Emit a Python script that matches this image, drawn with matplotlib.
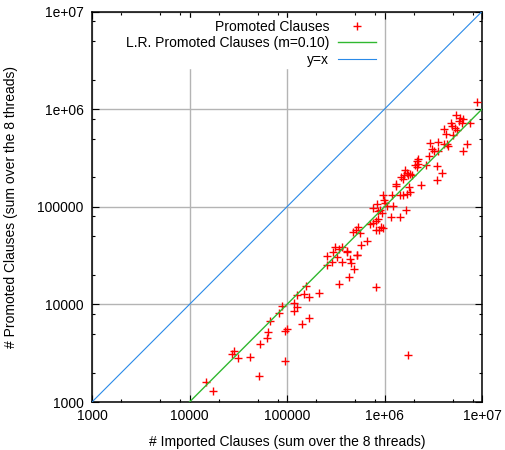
import numpy as np
import matplotlib
matplotlib.use("Agg")
import matplotlib.pyplot as plt
from matplotlib.ticker import FixedLocator, FixedFormatter, NullFormatter

plt.rcParams['font.family'] = ['Liberation Sans', 'DejaVu Sans']
plt.rcParams['font.size'] = 10

# values (sum over the 8 threads)
imported = [
    14900, 17600, 27100, 28800, 31700, 41400, 52800, 52200, 61900, 63800,
    66900, 82800, 89500, 95300, 100000, 95300, 118800, 118000, 127500, 126600,
    150400, 154800, 169000, 141500, 168100, 214400, 256600, 259000, 287300, 298500,
    323500, 363900, 415200, 442600, 453000, 484200, 434500, 341500, 526000, 808800,
    709900, 818300, 472100, 510300, 538300, 560800, 578100, 665900, 522400, 409400,
    363900, 343900, 310600,
    2222000, 2169000, 1689000, 1585000, 1754000, 1494000, 1936000, 1312000, 1297000, 2350000,
    1771000, 1826000, 1689000, 1442000, 1180000, 972000, 988000, 1012000, 1053000, 831800,
    767400, 1213000, 899500, 863600, 1662000, 1166000, 1459000, 953700, 812600, 767400,
    914200, 878000, 972000,
    8822000, 5410000, 5945000, 6339000, 5807000, 7621000, 4808000, 4978000, 5224000, 6194000,
    4074000, 5502000, 4246000, 5044000, 2930000, 3522000, 4074000, 4345000, 4511000, 7063000,
    6427000, 3069000, 3196000, 3564000, 2881000, 2222000, 2153000, 2055000, 2684000, 3455000,
    1622000, 1826000, 1559000, 3430000, 3862000, 1559000, 863600, 1754000,
]
promoted = [
    1585, 1300, 3070, 3300, 2840, 2910, 3950, 1860, 4500, 5160,
    6700, 8200, 9700, 5400, 5580, 2600, 10410, 8540, 9380, 12370,
    12880, 15300, 11880, 6240, 7310, 13220, 25120, 31440, 27480, 34800,
    30550, 26980, 34400, 29430, 26540, 23120, 19150, 16230, 31840, 15190,
    67300, 58350, 55190, 57420, 62080, 53840, 40290, 44480, 32060, 35560,
    39080, 36650, 38700,
    277300, 254200, 223300, 209500, 210400, 200800, 210400, 171400, 162300, 168900,
    158500, 142500, 134400, 132800, 131200, 132800, 118000, 108600, 102400, 106100,
    98100, 101200, 93600, 90570, 92720, 79320, 78960, 85770, 71020, 68230,
    62080, 58080, 60900,
    1188000, 868000, 808800, 783800, 758600, 718400, 718400, 677600, 645700, 713300,
    619400, 609500, 556800, 544900, 448000, 458700, 439500, 434500, 417400, 434500,
    368300, 390800, 368300, 369200, 329600, 311900, 293100, 269800, 266500, 258400,
    236600, 215300, 194500, 190100, 222300, 131200, 75680, 3000,
]
slope = 0.10

ticks = [1e3, 1e4, 1e5, 1e6, 1e7]
tick_labels = ['1000', '10000', '100000', '1e+06', '1e+07']
minor = [m * 10 ** e for e in range(3, 7) for m in (2, 5, 8)]

fig = plt.figure(figsize=(5.05, 4.5), dpi=100)
ax = fig.add_axes([92 / 505, 48 / 450, 390 / 505, 390.5 / 450])
ax.set_xscale('log')
ax.set_yscale('log')
ax.set_xlim(1e3, 1e7)
ax.set_ylim(1e3, 1e7)

ax.plot(imported, promoted, linestyle='none', marker='+', color='#ff0000',
        markersize=5.5, markeredgewidth=1.0, label='Promoted Clauses', zorder=3)
xs = np.array([1e3, 1e7])
ax.plot(xs, slope * xs, color='#30b830', lw=1.0,
        label='L.R. Promoted Clauses (m=%.2f)' % slope, zorder=4)
ax.plot(xs, xs, color='#2a8ae8', lw=0.8, label='y=x', zorder=4)

for axis in (ax.xaxis, ax.yaxis):
    axis.set_major_locator(FixedLocator(ticks))
    axis.set_major_formatter(FixedFormatter(tick_labels))
    axis.set_minor_locator(FixedLocator(minor))
    axis.set_minor_formatter(NullFormatter())

ax.grid(True, which='major', color='#b4b4b4', lw=1.0, zorder=0)
ax.tick_params(which='both', direction='in', top=True, right=True, width=0.8)
ax.tick_params(which='major', length=5)
ax.tick_params(which='minor', length=2.5)
ax.tick_params(axis='x', pad=5)
ax.tick_params(axis='y', pad=6)
for s in ax.spines.values():
    s.set_linewidth(1.1)

ax.set_xlabel('# Imported Clauses (sum over the 8 threads)')
ax.set_ylabel('# Promoted Clauses (sum over the 8 threads)')
ax.xaxis.set_label_coords(0.5, -0.085)
ax.yaxis.set_label_coords(-0.19, 0.5)

leg = ax.legend(loc='upper right', bbox_to_anchor=(0.733, 0.983), markerfirst=False,
                frameon=True, fancybox=False, framealpha=1.0, facecolor='white',
                edgecolor='white', borderpad=0.1, borderaxespad=0.0,
                handlelength=2.8, handletextpad=0.6, labelspacing=0.2, numpoints=1)
leg.set_zorder(5)

fig.savefig('out.png', dpi=100)
